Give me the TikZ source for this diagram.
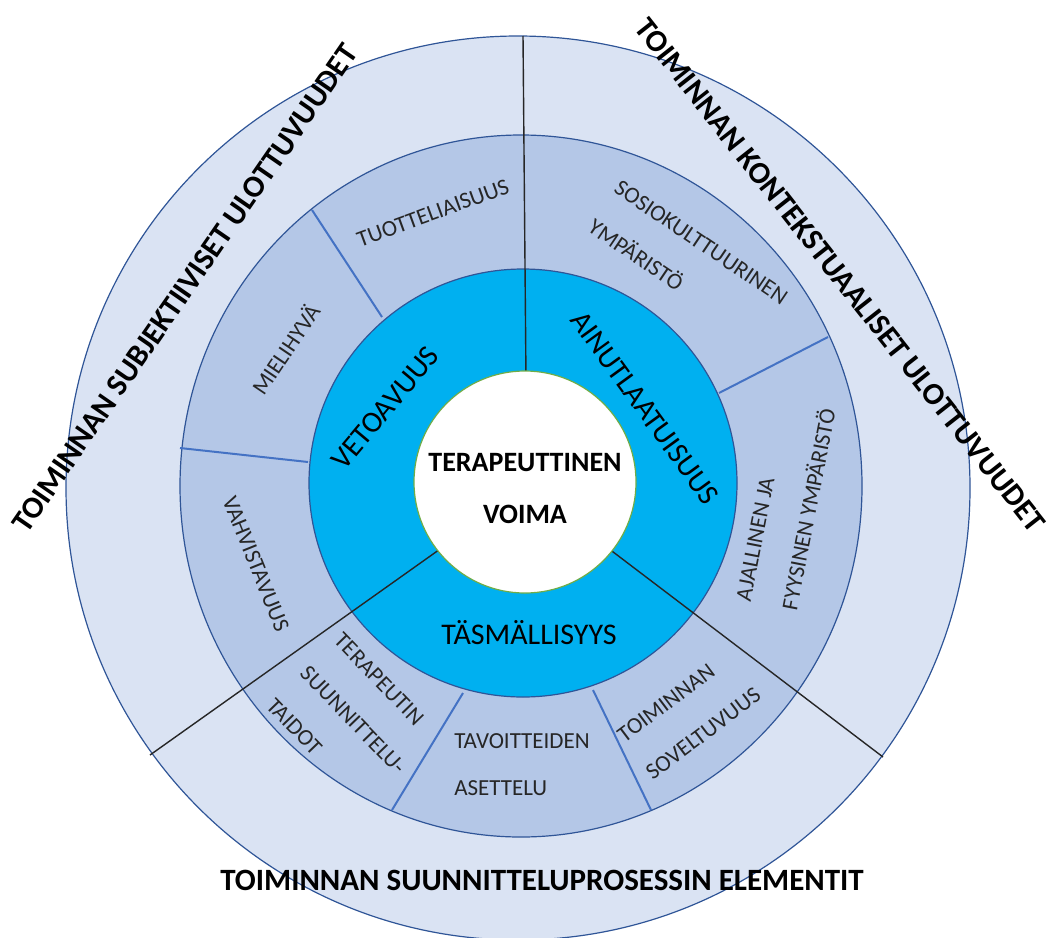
\documentclass[tikz,border=0pt]{standalone}
\usepackage{fontspec}
\setmainfont{Carlito}
\definecolor{ringout}{HTML}{DAE3F3}
\definecolor{ringmid}{HTML}{B4C7E7}
\definecolor{ringcore}{HTML}{00B0F0}
\definecolor{edgeblue}{HTML}{2F5597}
\definecolor{splitblue}{HTML}{4472C4}
\definecolor{coregreen}{HTML}{70AD47}
\definecolor{labelgray}{HTML}{262626}

\begin{document}
\begin{tikzpicture}[x=0.5pt, y=-0.5pt,
  ringedge/.style={draw=edgeblue, line width=0.6pt},
  split/.style={draw=splitblue, line width=1pt},
  axisline/.style={draw=black!85, line width=0.7pt},
  dimlabel/.style={font=\bfseries\fontsize{15.5}{17}\selectfont},
  corelabel/.style={font=\fontsize{15}{17}\selectfont},
  partlabel/.style={font=\fontsize{11.5}{23.5}\selectfont, text=labelgray, align=left, inner sep=0pt}]
  \useasboundingbox (0,0) rectangle (1052,937);
  \filldraw[fill=ringout, ringedge] (518,488) circle (452);
  \filldraw[fill=ringmid, ringedge] (521,486) ellipse [x radius=341, y radius=351];
  \filldraw[fill=ringcore, ringedge] (523,483) circle (214);

  \draw[split] (382,317) -- (312,210);
  \draw[split] (308,462) -- (180,448);
  \draw[split] (719,393) -- (828,337);
  \draw[split] (463,693) -- (392,810);
  \draw[split] (593,690) -- (651,810);

  \draw[axisline] (523,36) -- (526,380);
  \draw[axisline] (450,542) -- (150,755);
  \draw[axisline] (600,542) -- (883,757);

  \filldraw[fill=white, draw=coregreen, line width=0.6pt] (525,482) circle (111);

  \node[font=\bfseries\fontsize{14}{26}\selectfont, align=center] (power) at (525,489) {TERAPEUTTINEN\\VOIMA};

  \node[corelabel, rotate=50] (appeal) at (385,408) {VETOAVUUS};
  \node[corelabel, rotate=-54] (unique) at (645,408) {AINUTLAATUISUUS};
  \node[corelabel] (precision) at (529,633) {TÄSMÄLLISYYS};

  \node[partlabel, rotate=20] (productive) at (433,213) {TUOTTELIAISUUS};
  \node[partlabel, rotate=56] (pleasure) at (285,349) {MIELIHYVÄ};
  \node[partlabel, rotate=-68] (affirm) at (256,564) {VAHVISTAVUUS};
  \node[partlabel, rotate=-46] (skills) at (353,720) {TERAPEUTIN\\SUUNNITTELU-\\TAIDOT};
  \node[partlabel] (goals) at (522,765) {TAVOITTEIDEN\\ASETTELU};
  \node[partlabel, rotate=37] (fit) at (689,715) {TOIMINNAN\\SOVELTUVUUS};
  \node[partlabel, rotate=79] (physical) at (786,505) {AJALLINEN JA\\FYYSINEN YMPÄRISTÖ};
  \node[partlabel, rotate=-34] (social) at (688,262) {SOSIOKULTTUURINEN\\YMPÄRISTÖ};

  \node[dimlabel, rotate=55.4] (subjective) at (185,288) {TOIMINNAN SUBJEKTIIVISET ULOTTUVUUDET};
  \node[dimlabel, rotate=-51.8] (contextual) at (840,275) {TOIMINNAN KONTEKSTUAALISET ULOTTUVUUDET};
  \node[dimlabel] (process) at (542,880) {TOIMINNAN SUUNNITTELUPROSESSIN ELEMENTIT};
\end{tikzpicture}
\end{document}
